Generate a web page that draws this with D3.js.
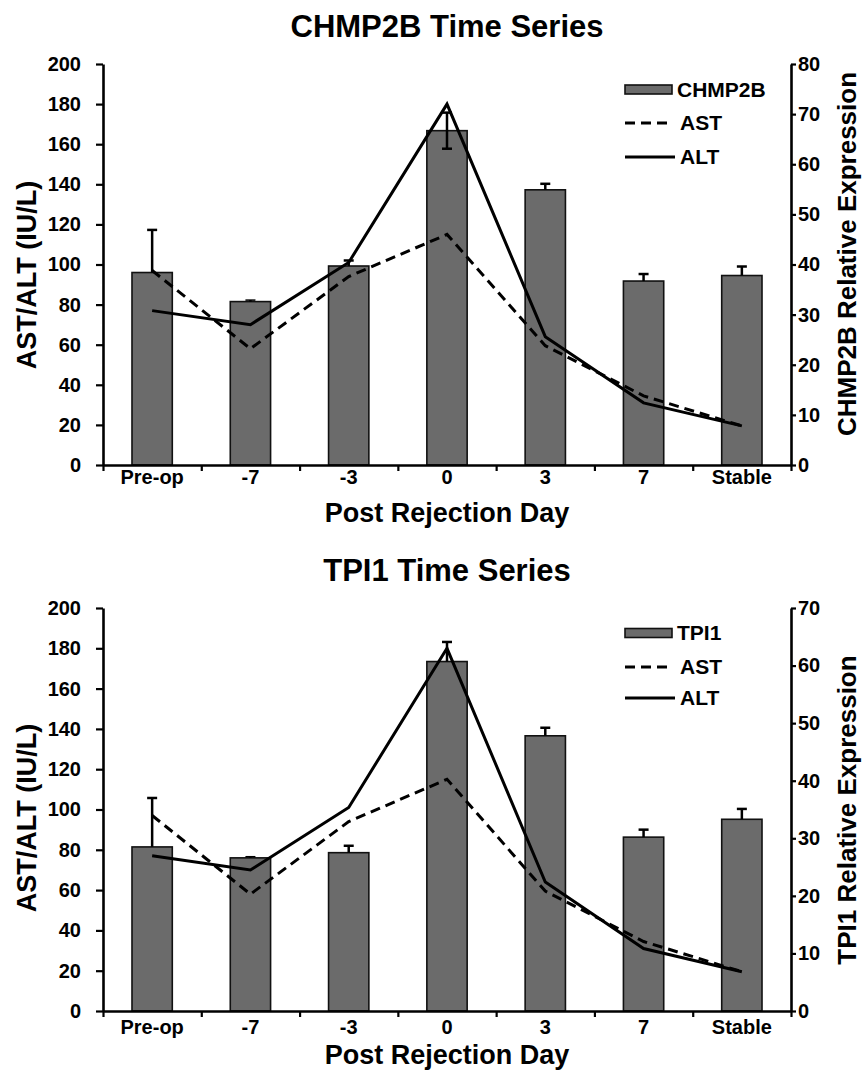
<!DOCTYPE html>
<html>
<head>
<meta charset="utf-8">
<script src="https://cdn.jsdelivr.net/npm/d3@7"></script>
<style>
  body { margin: 0; background: #fff; }
  svg text { font-family: "Liberation Sans", Arial, sans-serif; font-weight: bold; fill: #000; }
</style>
</head>
<body>
<svg id="chart" width="863" height="1070"></svg>
<script>
// categories shared by both panels
var days = ["Pre-op", "-7", "-3", "0", "3", "7", "Stable"];

// liver enzymes (left axis, IU/L)
var astValues = [97, 58, 94, 115, 59.5, 34.5, 19.5];
var altValues = [77, 70, 101, 180, 64, 31, 19.5];

// CHMP2B relative expression (right axis)
var chmp2bValues = [38.4, 32.6, 39.7, 66.7, 54.9, 36.7, 37.8];
var chmp2bErrUp = [8.5, 0.3, 1.1, 3.6, 1.2, 1.4, 1.8];
var chmp2bErrDown = [0, 0, 0, 3.6, 0, 0, 0];

// TPI1 relative expression (right axis)
var tpi1Values = [28.5, 26.6, 27.5, 60.7, 47.8, 30.2, 33.3];
var tpi1ErrUp = [8.5, 0.2, 1.2, 3.4, 1.4, 1.3, 1.8];
var tpi1ErrDown = [0, 0, 0, 0, 0, 0, 0];

var leftTicks = d3.range(0, 201, 20);
var chmp2bTicks = d3.range(0, 81, 10);
var tpi1Ticks = d3.range(0, 71, 10);

var svg = d3.select("#chart");
var barColor = "#6b6b6b";

drawPanel({
  title: "CHMP2B Time Series", gene: "CHMP2B",
  bars: chmp2bValues, errUp: chmp2bErrUp, errDown: chmp2bErrDown,
  rightMax: 80, rightTicks: chmp2bTicks,
  top: 64, bottom: 465, titleY: 37, rightLabelY: 254, leftLabelY: 275,
  legendY: [89.5, 123, 157], xLabelGap: 20, xTitleY: 522
});

drawPanel({
  title: "TPI1 Time Series", gene: "TPI1",
  bars: tpi1Values, errUp: tpi1ErrUp, errDown: tpi1ErrDown,
  rightMax: 70, rightTicks: tpi1Ticks,
  top: 608, bottom: 1011, titleY: 581, rightLabelY: 810, leftLabelY: 818,
  legendY: [633, 667, 698], xLabelGap: 24, xTitleY: 1064
});

function drawPanel(cfg) {
  var left = 103, right = 791;
  var g = svg.append("g");

  var x = d3.scaleBand().domain(days).range([left, right]).padding(0);
  var xEdges = d3.scaleLinear().domain([0, days.length]).range([left, right]);
  var yL = d3.scaleLinear().domain([0, 200]).range([cfg.bottom, cfg.top]);
  var yR = d3.scaleLinear().domain([0, cfg.rightMax]).range([cfg.bottom, cfg.top]);
  var barW = x.bandwidth() * 0.41;
  var cx = function (d, i) { return x(days[i]) + x.bandwidth() / 2; };

  // bars
  g.append("g").selectAll("rect")
    .data(cfg.bars)
    .join("rect")
    .attr("x", (d, i) => cx(d, i) - barW / 2)
    .attr("y", d => yR(d))
    .attr("width", barW)
    .attr("height", d => yR(0) - yR(d))
    .attr("fill", barColor)
    .attr("stroke", "#111")
    .attr("stroke-width", 1.6);

  // error bars
  var eb = g.append("g").attr("stroke", "#000").attr("stroke-width", 2.5);
  cfg.bars.forEach(function (v, i) {
    var xc = cx(v, i);
    var hi = v + cfg.errUp[i], lo = v - cfg.errDown[i];
    eb.append("line").attr("x1", xc).attr("x2", xc).attr("y1", yR(hi)).attr("y2", yR(lo));
    eb.append("line").attr("x1", xc - 5).attr("x2", xc + 5).attr("y1", yR(hi)).attr("y2", yR(hi))
      .attr("stroke-width", cfg.errUp[i] > 0.5 ? 2.5 : 1.5);
    if (cfg.errDown[i] > 0)
      eb.append("line").attr("x1", xc - 5).attr("x2", xc + 5).attr("y1", yR(lo)).attr("y2", yR(lo));
  });

  // AST / ALT lines
  var line = d3.line()
    .x((d, i) => cx(d, i))
    .y(d => yL(d));

  g.append("path").datum(astValues)
    .attr("d", line)
    .attr("fill", "none")
    .attr("stroke", "#000")
    .attr("stroke-width", 3)
    .attr("stroke-dasharray", "10,6");

  g.append("path").datum(altValues)
    .attr("d", line)
    .attr("fill", "none")
    .attr("stroke", "#000")
    .attr("stroke-width", 3)
    .attr("stroke-linejoin", "miter");

  // left axis
  var axL = g.append("g")
    .attr("transform", `translate(${left},0)`)
    .call(d3.axisLeft(yL).tickValues(leftTicks).tickSize(7).tickSizeOuter(0).tickPadding(15));

  // right axis
  var axR = g.append("g")
    .attr("transform", `translate(${right},0)`)
    .call(d3.axisRight(yR).tickValues(cfg.rightTicks).tickSize(5).tickSizeOuter(0).tickPadding(2));

  // bottom axis: boundary ticks + category labels
  var axB = g.append("g")
    .attr("transform", `translate(0,${cfg.bottom})`)
    .call(d3.axisBottom(xEdges).ticks(days.length).tickFormat("").tickSize(6).tickSizeOuter(0));

  var axLab = g.append("g")
    .attr("transform", `translate(0,${cfg.bottom})`)
    .call(d3.axisBottom(x).tickSize(0).tickPadding(cfg.xLabelGap - 15));
  axLab.select(".domain").remove();

  [axL, axR, axB].forEach(function (a) {
    a.select(".domain").attr("stroke", "#000").attr("stroke-width", 2.6);
    a.selectAll(".tick line").attr("stroke", "#000").attr("stroke-width", 2.2);
  });
  [axL, axR, axLab].forEach(function (a) {
    a.selectAll("text").attr("font-size", 20).attr("font-family", null).attr("fill", "#000");
  });

  // titles
  g.append("text")
    .attr("x", 447).attr("y", cfg.titleY)
    .attr("text-anchor", "middle")
    .attr("font-size", 31)
    .text(cfg.title);

  g.append("text")
    .attr("x", 447).attr("y", cfg.xTitleY)
    .attr("text-anchor", "middle")
    .attr("font-size", 27)
    .text("Post Rejection Day");

  g.append("text")
    .attr("transform", `translate(36,${cfg.leftLabelY}) rotate(-90)`)
    .attr("text-anchor", "middle")
    .attr("font-size", 27)
    .text("AST/ALT (IU/L)");

  g.append("text")
    .attr("transform", `translate(856,${cfg.rightLabelY}) rotate(-90)`)
    .attr("text-anchor", "middle")
    .attr("font-size", 26)
    .text(cfg.gene + " Relative Expression");

  // legend
  var lg = g.append("g");
  var lx = 625;
  lg.append("rect")
    .attr("x", lx).attr("y", cfg.legendY[0] - 4.5)
    .attr("width", 47).attr("height", 9)
    .attr("fill", barColor).attr("stroke", "#111").attr("stroke-width", 1.6);
  lg.append("line")
    .attr("x1", lx).attr("x2", lx + 46)
    .attr("y1", cfg.legendY[1]).attr("y2", cfg.legendY[1])
    .attr("stroke", "#000").attr("stroke-width", 3).attr("stroke-dasharray", "10,6");
  lg.append("line")
    .attr("x1", lx).attr("x2", lx + 50)
    .attr("y1", cfg.legendY[2]).attr("y2", cfg.legendY[2])
    .attr("stroke", "#000").attr("stroke-width", 3);
  [cfg.gene, "AST", "ALT"].forEach(function (t, i) {
    lg.append("text")
      .attr("x", lx + 52 + (i === 0 ? 0 : 3)).attr("y", cfg.legendY[i] + 7)
      .attr("font-size", 21)
      .text(t);
  });
}
</script>
</body>
</html>
